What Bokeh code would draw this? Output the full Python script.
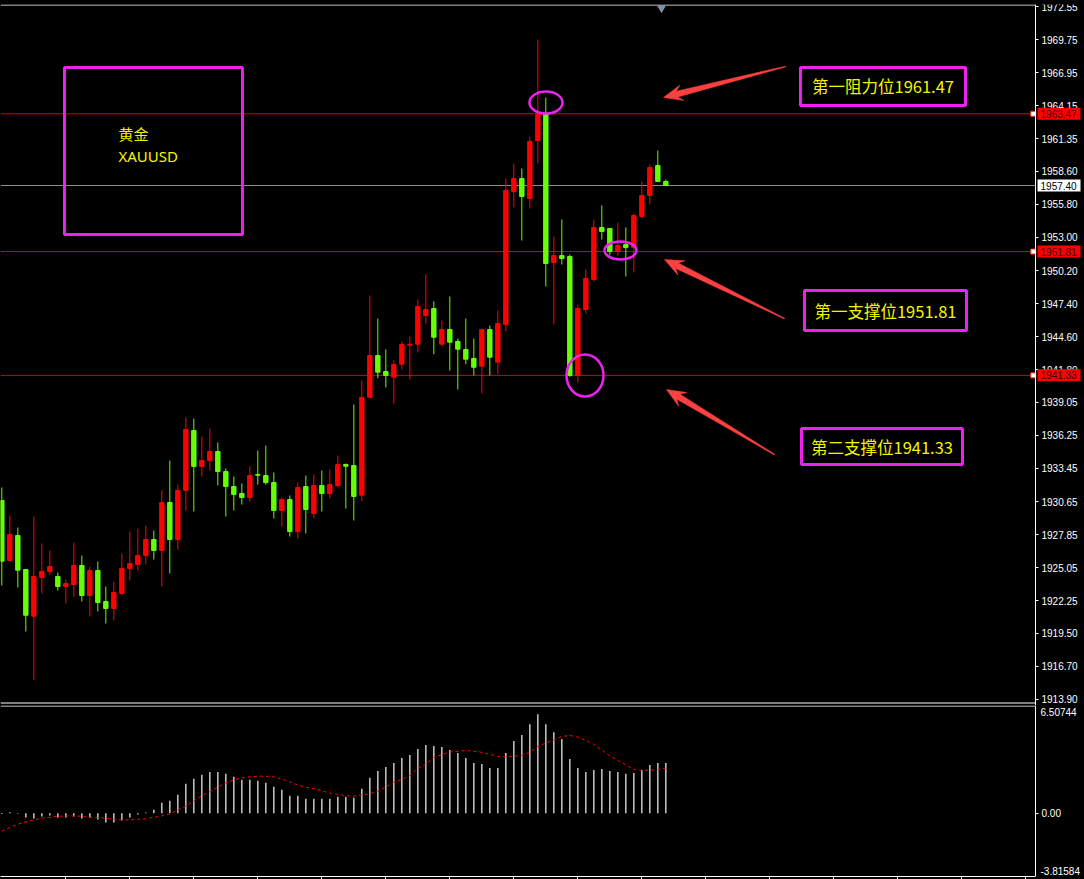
import math
from bokeh.plotting import figure
from bokeh.models import (Range1d, FixedTicker, BoxAnnotation, Label,
                          NumeralTickFormatter)
from bokeh.layouts import column
from bokeh.embed import file_html
from bokeh.resources import INLINE
from bokeh.core.properties import value

# ---------------- data ----------------
opens = [1930.74, 1925.66, 1927.78, 1924.90, 1920.95, 1924.22, 1924.73, 1924.31, 1923.46, 1923.63,
         1925.24, 1922.70, 1924.81, 1922.19, 1921.60, 1922.87, 1924.98, 1925.32, 1926.08, 1927.44,
         1926.51, 1930.57, 1927.44, 1931.59, 1936.66, 1933.62, 1934.12, 1934.89, 1933.19, 1931.92,
         1931.33, 1930.99, 1932.94, 1932.85, 1932.26, 1929.89, 1930.82, 1928.11, 1931.92, 1929.64,
         1932.01, 1931.33, 1932.01, 1933.79, 1933.70, 1931.19, 1939.48, 1943.01, 1941.66, 1941.18,
         1942.28, 1943.89, 1943.97, 1946.40, 1946.99, 1943.97, 1945.21, 1944.20, 1943.52, 1942.76,
         1942.11, 1945.21, 1942.45, 1945.66, 1956.89, 1957.99, 1956.30, 1961.21, 1963.41, 1950.88,
         1951.47, 1951.39, 1941.32, 1946.90, 1949.44, 1953.85, 1953.76, 1951.81, 1952.41, 1952.15,
         1954.78, 1956.55, 1959.09, 1957.74]
highs = [1931.84, 1929.47, 1928.45, 1924.90, 1929.38, 1927.10, 1926.51, 1924.64, 1924.05, 1927.18,
         1926.08, 1925.15, 1925.58, 1923.46, 1923.88, 1926.25, 1928.11, 1928.37, 1928.62, 1928.20,
         1931.59, 1934.12, 1932.09, 1937.76, 1937.68, 1936.16, 1936.83, 1935.65, 1933.45, 1932.77,
         1932.18, 1933.62, 1934.97, 1935.39, 1933.11, 1930.99, 1931.16, 1932.26, 1932.85, 1932.94,
         1933.28, 1933.36, 1934.55, 1933.87, 1938.86, 1940.90, 1948.09, 1946.14, 1943.52, 1942.59,
         1944.20, 1944.62, 1947.75, 1949.87, 1947.60, 1945.97, 1948.00, 1944.45, 1946.14, 1944.45,
         1945.30, 1945.55, 1946.82, 1957.99, 1959.26, 1958.84, 1961.55, 1969.76, 1964.85, 1953.08,
         1954.52, 1951.56, 1947.33, 1950.29, 1954.52, 1955.71, 1953.76, 1954.27, 1953.85, 1955.03,
         1957.74, 1959.18, 1960.36, 1957.91]
lows = [1923.54, 1925.58, 1923.38, 1919.65, 1915.53, 1922.87, 1924.47, 1923.12, 1922.02, 1922.61,
        1922.19, 1920.92, 1921.34, 1920.33, 1920.58, 1922.70, 1923.97, 1924.81, 1925.32, 1925.74,
        1923.46, 1924.56, 1926.59, 1929.89, 1929.81, 1932.77, 1933.28, 1932.01, 1929.38, 1929.89,
        1930.40, 1930.65, 1932.09, 1932.09, 1929.22, 1928.54, 1927.69, 1927.52, 1927.95, 1929.22,
        1929.81, 1930.91, 1931.84, 1930.06, 1929.05, 1930.68, 1939.40, 1941.09, 1940.30, 1938.89,
        1941.83, 1940.98, 1943.27, 1945.72, 1943.12, 1943.80, 1941.74, 1940.13, 1942.28, 1941.32,
        1939.80, 1941.32, 1941.43, 1945.07, 1955.54, 1952.74, 1955.45, 1959.26, 1948.85, 1945.63,
        1950.71, 1941.20, 1940.73, 1946.57, 1949.27, 1952.83, 1951.47, 1951.47, 1949.70, 1950.04,
        1954.61, 1955.79, 1957.74, 1957.40]
closes = [1925.60, 1927.86, 1924.84, 1921.03, 1924.31, 1924.73, 1925.15, 1923.46, 1923.71, 1925.24,
          1922.70, 1924.81, 1922.11, 1921.60, 1922.95, 1924.98, 1925.41, 1926.08, 1927.44, 1926.51,
          1930.57, 1927.44, 1931.59, 1936.75, 1933.62, 1934.12, 1934.89, 1933.19, 1931.92, 1931.25,
          1930.99, 1932.85, 1932.88, 1932.26, 1929.89, 1930.82, 1928.11, 1931.84, 1929.98, 1932.01,
          1931.33, 1932.09, 1933.79, 1933.64, 1931.08, 1939.46, 1943.01, 1941.60, 1941.32, 1942.25,
          1943.94, 1943.97, 1947.16, 1946.90, 1944.56, 1945.21, 1944.14, 1943.55, 1942.70, 1942.02,
          1945.21, 1942.87, 1945.72, 1956.98, 1957.99, 1956.47, 1961.12, 1963.41, 1950.80, 1951.47,
          1951.22, 1941.32, 1946.99, 1949.53, 1953.85, 1953.51, 1951.81, 1952.32, 1952.15, 1954.86,
          1956.55, 1958.92, 1957.74, 1957.40]

macd_hist = [-0.05, 0.06, -0.03, -0.26, -0.32, -0.20, -0.14, -0.26, -0.26, -0.20,
             -0.32, -0.26, -0.38, -0.56, -0.56, -0.44, -0.26, -0.08, 0.05, 0.22,
             0.64, 0.76, 1.12, 1.78, 2.08, 2.32, 2.50, 2.50, 2.38, 2.20,
             2.02, 2.02, 1.96, 1.84, 1.60, 1.42, 1.06, 1.06, 0.88, 0.88,
             0.88, 0.88, 1.00, 1.00, 0.94, 1.48, 2.14, 2.56, 2.80, 3.04,
             3.34, 3.52, 3.88, 4.12, 4.06, 4.00, 3.82, 3.64, 3.34, 3.04,
             2.98, 2.74, 2.74, 3.64, 4.36, 4.72, 5.38, 5.98, 5.38, 4.90,
             4.48, 3.28, 2.74, 2.50, 2.62, 2.68, 2.56, 2.50, 2.38, 2.44,
             2.62, 2.92, 3.04, 3.04]
macd_signal = [-1.08, -0.86, -0.66, -0.52, -0.40, -0.30, -0.24, -0.18, -0.16, -0.16,
               -0.18, -0.24, -0.26, -0.30, -0.34, -0.40, -0.40, -0.36, -0.32, -0.24,
               -0.16, -0.04, 0.22, 0.42, 0.76, 1.06, 1.30, 1.58, 1.84, 2.02,
               2.14, 2.20, 2.24, 2.24, 2.20, 2.06, 1.90, 1.70, 1.58, 1.48,
               1.36, 1.22, 1.14, 1.06, 1.04, 1.10, 1.18, 1.34, 1.58, 1.88,
               2.04, 2.28, 2.72, 2.98, 3.38, 3.54, 3.70, 3.74, 3.80, 3.74,
               3.68, 3.56, 3.44, 3.40, 3.44, 3.50, 3.68, 4.04, 4.24, 4.44,
               4.64, 4.70, 4.60, 4.40, 4.16, 3.82, 3.46, 3.20, 2.92, 2.66,
               2.60, 2.60, 2.64, 2.72]

price_ticks = [1913.90, 1916.70, 1919.50, 1922.25, 1925.05, 1927.85, 1930.65, 1933.45,
               1936.25, 1939.05, 1941.80, 1944.60, 1947.40, 1950.20, 1953.00, 1955.80,
               1958.60, 1961.35, 1964.15, 1966.95, 1969.75, 1972.55]
macd_max, macd_min = 6.50744, -3.81584
macd_max_label, macd_min_label = "6.50744", "-3.81584"
level_prices = [1963.47, 1951.81, 1941.33]
bid_price = 1957.40
symbol_lines = ["黄金", "XAUUSD"]
level_notes = ["第一阻力位1961.47", "第一支撑位1951.81", "第二支撑位1941.33"]

# ---------------- styling / layout ----------------
W = 1084
H1, H2 = 705, 174
X0 = -0.166
XE = X0 + W / 8.0          # 8 px per bar
XA = 129.21                # price-axis position (bar units)
Y1 = 1972.72
Y0 = Y1 - (H1 - 4) / 11.815
M0, M1 = macd_min, macd_max
UP, DOWN = "#ff0000", "#66ff00"
MAG = "#ee22ee"
YEL = "#f5f500"
ARW = "#ff4040"
AXFONT = "Liberation Sans"
AXSIZE = "10px"

xr = Range1d(X0, XE)
n = len(opens)
xs = list(range(n))
colors = [UP if c >= o else DOWN for o, c in zip(opens, closes)]
tops = [max(o, c) for o, c in zip(opens, closes)]
bots = [min(o, c) for o, c in zip(opens, closes)]

sx = 8.0
sy = (H1 - 4) / (Y1 - Y0)

p = figure(width=W, height=H1, x_range=xr, y_range=Range1d(Y0, Y1),
           output_backend="svg", toolbar_location=None, y_axis_location="right",
           x_axis_location=None, background_fill_color="black", border_fill_color="black",
           min_border=0)
p.min_border_top = 4
p.grid.visible = False
p.outline_line_color = None
ax = p.yaxis[0]
ax.fixed_location = XA
ax.ticker = FixedTicker(ticks=price_ticks)
ax.formatter = NumeralTickFormatter(format="0.00")
ax.axis_line_color = "white"
ax.major_tick_line_color = "white"
ax.major_tick_out = 3
ax.major_tick_in = 0
ax.minor_tick_line_color = None
ax.major_label_text_color = "white"
ax.major_label_text_font = AXFONT
ax.major_label_text_font_size = AXSIZE
ax.major_label_standoff = 3

# frame top / bottom lines (stop at the price axis)
yb = Y0 + 2.5 / sy
p.segment([X0, X0], [Y1 - 0.5 / sy, yb], [XA, XA], [Y1 - 0.5 / sy, yb],
          line_color="white", line_width=1)

# level lines and bid line
p.segment([X0] * 3, level_prices, [XA] * 3, level_prices, line_color="#d80000", line_width=1)
p.segment([X0], [bid_price], [XA], [bid_price], line_color="#8c8c8c", line_width=1)

# candles
p.segment(xs, lows, xs, highs, color=colors, line_width=1)
p.vbar(x=xs, width=0.55, top=tops, bottom=bots, fill_color=colors, line_color=colors, line_width=1)

# chart-shift marker at top
p.scatter([82.46], [Y1 - 3.5 / sy], marker="inverted_triangle", size=9,
          fill_color="#8090a8", line_color=None)

# line end handles
p.scatter([XA - 2.2 / sx] * 3, level_prices, marker="square", size=5,
          fill_color="white", line_color="#ff3030")

# price tags on the price axis (drawn above the axis labels)
tag_x = XA + 23.5 / sx
tag_renderers = [
    p.rect(x=[tag_x] * 3, y=level_prices, width=43, height=12, width_units="screen",
           height_units="screen", fill_color="#ff0000", line_color=None),
    p.rect(x=[tag_x], y=[bid_price], width=43, height=12, width_units="screen",
           height_units="screen", fill_color="white", line_color=None),
    p.text(x=[XA + 5 / sx] * 3, y=level_prices, text=[f"{v:.2f}" for v in level_prices],
           text_baseline="middle", text_font=value(AXFONT), text_font_size=AXSIZE,
           text_color="#3a0000"),
    p.text(x=[XA + 5 / sx], y=[bid_price], text=[f"{bid_price:.2f}"], text_baseline="middle",
           text_font=value(AXFONT), text_font_size=AXSIZE, text_color="black"),
]
for r in tag_renderers:
    r.level = "overlay"

# symbol box
p.add_layout(BoxAnnotation(left=7.83, right=30.08, top=1967.39, bottom=1953.25,
                           fill_color=None, line_color=MAG, line_alpha=1.0, line_width=3))
p.add_layout(Label(x=14.58, y=1961.8, text=symbol_lines[0], text_baseline="middle",
                   text_font="Noto Sans CJK SC", text_font_size="15px", text_color=YEL))
p.add_layout(Label(x=14.58, y=1959.9, text=symbol_lines[1], text_baseline="middle",
                   text_font="Noto Sans", text_font_size="15px", text_color=YEL))

# level note boxes
note_boxes = [(99.83, 120.46, 1967.39, 1964.17), (100.33, 120.58, 1948.51, 1945.13),
              (99.96, 120.08, 1936.83, 1933.78)]
for (l, r, t, b), txt in zip(note_boxes, level_notes):
    p.add_layout(BoxAnnotation(left=l, right=r, top=t, bottom=b, fill_color=None,
                               line_color=MAG, line_alpha=1.0, line_width=3))
    p.add_layout(Label(x=(l + r) / 2, y=(t + b) / 2, text=txt, text_align="center",
                       text_baseline="middle", text_font="Noto Sans CJK SC",
                       text_font_size="16.5px", text_color=YEL))

# tapered arrows (tail -> head)
arrows = [((97.96, 1967.47), (82.71, 1964.85)),
          ((97.83, 1946.14), (82.83, 1951.13)),
          ((96.58, 1934.63), (83.08, 1940.13))]
for (tx, ty), (hx, hy) in arrows:
    px0, py0, px1, py1 = tx * sx, ty * sy, hx * sx, hy * sy
    L = math.hypot(px1 - px0, py1 - py0)
    ux, uy = (px1 - px0) / L, (py1 - py0) / L
    nx, ny = -uy, ux
    hl, hw, sw, tw = 19.0, 8.0, 3.0, 0.4
    bx, by = px1 - ux * hl, py1 - uy * hl
    nbx, nby = px1 - ux * (hl - 5), py1 - uy * (hl - 5)
    pts = [(px0 + nx * tw, py0 + ny * tw), (nbx + nx * sw, nby + ny * sw),
           (bx + nx * hw, by + ny * hw), (px1, py1), (bx - nx * hw, by - ny * hw),
           (nbx - nx * sw, nby - ny * sw), (px0 - nx * tw, py0 - ny * tw)]
    p.patch([a / sx for a, _ in pts], [b / sy for _, b in pts], fill_color=ARW, line_color=ARW,
            line_width=0.5)

# highlight ellipses
p.ellipse(x=[68.02, 77.33, 72.9], y=[1964.42, 1951.90, 1941.32], width=[33, 32, 37],
          height=[22, 18, 42], width_units="screen", height_units="screen",
          fill_color=None, line_color=MAG, line_width=2.5)

# ---------------- MACD sub window ----------------
q = figure(width=W, height=H2, x_range=xr, y_range=Range1d(M0, M1),
           output_backend="svg", toolbar_location=None, y_axis_location="right",
           background_fill_color="black", border_fill_color="black", min_border=0)
q.min_border_top = 0
q.grid.visible = False
q.outline_line_color = None
qa = q.yaxis[0]
qa.fixed_location = XA
qa.ticker = FixedTicker(ticks=[0.0])
qa.formatter = NumeralTickFormatter(format="0.00")
qa.axis_line_color = "white"
qa.major_tick_line_color = "white"
qa.major_tick_out = 3
qa.major_tick_in = 0
qa.minor_tick_line_color = None
qa.major_label_text_color = "white"
qa.major_label_text_font = AXFONT
qa.major_label_text_font_size = AXSIZE
qa.major_label_standoff = 3
xa = q.xaxis[0]
xa.bounds = (X0, XA)
xa.ticker = FixedTicker(ticks=list(range(8, 129, 8)))
xa.axis_line_color = "white"
xa.major_tick_line_color = "white"
xa.major_tick_out = 3
xa.major_tick_in = 0
xa.minor_tick_line_color = None
xa.major_label_text_color = None
xa.major_label_text_font_size = "1px"
xa.major_label_standoff = 0

sy2 = (H2 - 4) / (M1 - M0)
q.segment([X0], [M1 - 0.5 / sy2], [XA], [M1 - 0.5 / sy2], line_color="white", line_width=1)
q.text(x=[XA + 5 / sx], y=[M1], text=[macd_max_label], text_baseline="top", y_offset=2,
       text_font=value(AXFONT), text_font_size=AXSIZE, text_color="white")
q.text(x=[XA + 5 / sx], y=[M0], text=[macd_min_label], text_baseline="bottom", y_offset=-2,
       text_font=value(AXFONT), text_font_size=AXSIZE, text_color="white")

q.segment(xs, [0] * n, xs, macd_hist, color="#c8c8c8", line_width=1.5)
q.line(xs, macd_signal, color="#ff0000", line_dash="3 3", line_width=1)

layout = column(p, q, spacing=0, styles={"background-color": "black"})
open("out.html", "w").write(file_html(layout, INLINE))
